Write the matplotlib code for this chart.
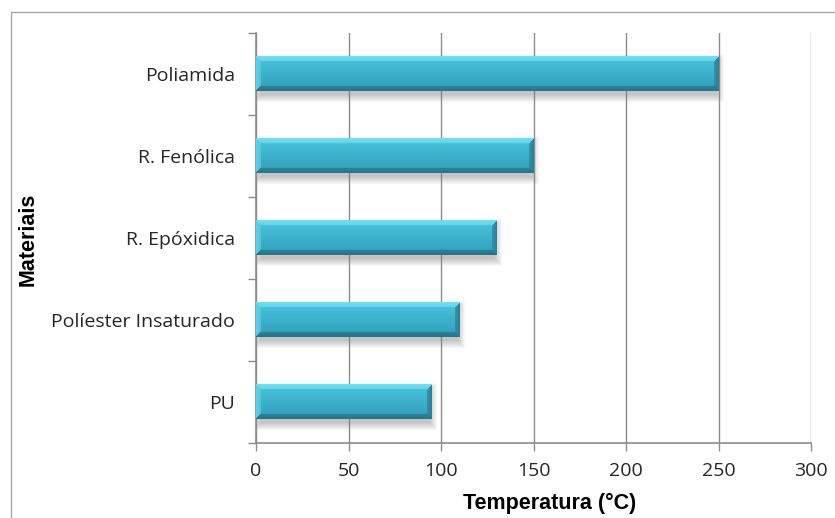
import numpy as np
import matplotlib.pyplot as plt
from matplotlib.patches import Rectangle

materiais = ["PU", "Políester Insaturado", "R. Epóxidica", "R. Fenólica", "Poliamida"]
temperatura = [95, 110, 130, 150, 250]

fig = plt.figure(figsize=(8.35, 5.18), dpi=100)
ax = fig.add_axes([256 / 835, 1 - 443 / 518, 555 / 835, 410 / 518])

# chart frame
fig.patches.append(Rectangle((11 / 835, -0.1), 1.2, 1 - 12 / 518 + 0.1,
                             transform=fig.transFigure, fill=False,
                             edgecolor="#a6a6a6", linewidth=1.0))

ax.set_xlim(0, 300)
ax.set_ylim(-0.5, 4.5)

bars = ax.barh(range(len(materiais)), temperatura, height=0.42,
               color="none", edgecolor="none", zorder=3)


def bevel_image(w, h, b=5):
    yy, xx = np.mgrid[0:h, 0:w].astype(float)
    t = yy / max(h - 1, 1)
    top = np.array([74, 196, 222])
    bot = np.array([48, 158, 186])
    img = top[None, None, :] * (1 - t[..., None]) + bot[None, None, :] * t[..., None]
    d_top, d_bot = yy, h - 1 - yy
    d_left, d_right = xx, w - 1 - xx
    dmin = np.minimum(np.minimum(d_top, d_bot), np.minimum(d_left, d_right))
    edge = dmin < b
    which = np.argmin(np.stack([d_top, d_bot, d_left, d_right]), axis=0)
    cols = np.array([[112, 222, 242], [40, 116, 136], [92, 208, 230], [42, 130, 152]])
    shade = 1 - 0.4 * (dmin / b)
    for k in range(4):
        m = edge & (which == k)
        img[m] = cols[k] * shade[m][:, None] + img[m] * (1 - shade[m][:, None])
    return img / 255.0


px_x = 555 / 300
px_y = 410 / 5
for bar in bars:
    x0, y0 = bar.get_x(), bar.get_y()
    w, h = bar.get_width(), bar.get_height()
    wp, hp = int(round(w * px_x)), int(round(h * px_y))
    # soft shadow under the bar
    sh = np.zeros((hp + 16, wp + 16, 4))
    yy, xx = np.mgrid[0:hp + 16, 0:wp + 16].astype(float)
    dx = np.minimum(xx, wp + 15 - xx)
    dy = np.minimum(yy, hp + 15 - yy)
    a = np.clip(np.minimum(dx, dy) / 8, 0, 1) * 0.45
    sh[..., :3] = 0.5
    sh[..., 3] = a
    ax.imshow(sh, extent=(x0 - 4 / px_x, x0 + w + 6 / px_x,
                          y0 - 12 / px_y, y0 + h + 2 / px_y),
              origin="upper", aspect="auto", zorder=2, interpolation="bilinear")
    ax.imshow(bevel_image(wp, hp), extent=(x0, x0 + w, y0, y0 + h),
              origin="upper", aspect="auto", zorder=4, interpolation="bilinear")

ax.set_xlim(0, 300)
ax.set_ylim(-0.5, 4.5)

ax.set_xticks(range(0, 301, 50))
ax.xaxis.grid(True, color="#8c8c8c", linewidth=1.0, zorder=0)
ax.set_axisbelow(True)

ax.set_yticks(range(len(materiais)))
ax.set_yticklabels(materiais)
ax.set_yticks(np.arange(-0.5, 5, 1), minor=True)
ax.tick_params(axis="y", which="major", length=0, pad=15)
ax.tick_params(axis="y", which="minor", length=6, color="#8c8c8c", width=1.0)
ax.tick_params(axis="x", length=6, color="#8c8c8c", width=1.0, pad=8)

for lab in ax.get_xticklabels() + ax.get_yticklabels():
    lab.set_fontfamily("Open Sans")
    lab.set_fontsize(14)
    lab.set_color("#262626")

for s in ["top", "right"]:
    ax.spines[s].set_visible(False)
for s in ["left", "bottom"]:
    ax.spines[s].set_color("#8c8c8c")
    ax.spines[s].set_linewidth(1.2)

fig.text(550 / 835, 1 - 503 / 518, "Temperatura (°C)", ha="center",
         va="center", fontfamily="Liberation Sans", fontweight="bold",
         fontsize=15.5)
fig.text(28 / 835, 1 - 239 / 518, "Materiais", rotation=90, ha="center",
         va="center", fontfamily="Liberation Sans", fontweight="bold",
         fontsize=15.5)

fig.savefig("out.png", dpi=100)
